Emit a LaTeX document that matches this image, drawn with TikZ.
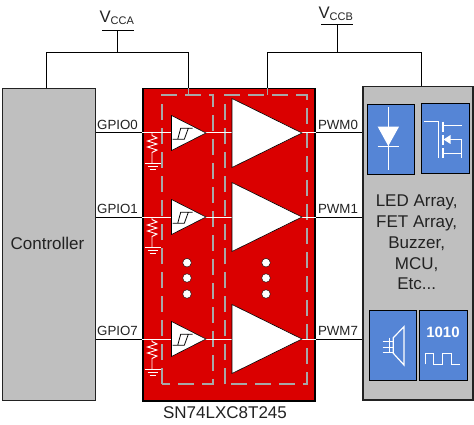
\documentclass[tikz,border=0pt]{standalone}
\usepackage{fontspec}
\setmainfont{Liberation Sans}
\definecolor{chipred}{HTML}{DA0000}
\definecolor{boxgray}{HTML}{BFBFBF}
\definecolor{iconblue}{HTML}{5585D6}
\definecolor{dashgray}{HTML}{A8A8A8}
\definecolor{inkc}{HTML}{222222}
\tikzset{
  blockbox/.style={draw=inkc,line width=1.5pt,fill=boxgray,inner sep=0pt,anchor=north west},
  chipbox/.style={draw=black,line width=1.5pt,fill=chipred,inner sep=0pt,anchor=north west},
  iconbox/.style={draw=black,line width=1pt,fill=iconblue,inner sep=0pt,anchor=north west},
  wire/.style={draw=black,line width=1pt},
  whitewire/.style={draw=white,line width=1pt},
  gdash/.style={draw=dashgray,line width=1.4pt,dash pattern=on 16pt off 8pt},
  gstub/.style={draw=dashgray,line width=1.4pt},
  tri/.style={draw=black,line width=0.6pt,fill=white,line join=miter},
  lab/.style={inner sep=0pt,anchor=base,text=inkc,font=\fontsize{13.3}{16}\selectfont},
  big/.style={inner sep=0pt,anchor=base,text=inkc,font=\fontsize{17}{21}\selectfont},
  dot/.style={circle,draw=black,line width=0.4pt,fill=white,minimum size=8.6pt,inner sep=0pt},
  icon/.style={draw=white,line width=1pt},
}
\begin{document}
\begin{tikzpicture}[x=1pt,y=-1pt]
\useasboundingbox (0,0) rectangle (474,425);
% blocks
\node[blockbox,minimum width=93pt,minimum height=311.5pt] (ctrl) at (1.5,88) {};
\node[chipbox,minimum width=172pt,minimum height=312pt] (chip) at (142,88) {};
\node[blockbox,minimum width=110pt,minimum height=313pt] (load) at (362,86) {};
\node[big,anchor=center] (ctrltxt) at (47.5,243) {Controller};
\node[big] (chipname) at (225,418) {SN74LXC8T245};
% supplies
\coordinate (busa) at (117.5,53);
\coordinate (busb) at (337.5,53);
\coordinate (vabarl) at (102,30.3);
\coordinate (vabarr) at (134,30.3);
\coordinate (vbbarl) at (321,25);
\coordinate (vbbarr) at (353,25);
\draw[wire] (vabarl) -- (vabarr);
\draw[wire] (vbbarl) -- (vbbarr);
\draw[wire] (busa) -- (busa |- vabarl);
\draw[wire] (busb) -- (busb |- vbbarl);
\coordinate (adropc) at (46.5,53);
\coordinate (adropd) at (188.5,53);
\coordinate (bdropd) at (267.5,53);
\coordinate (bdropl) at (421,53);
\draw[wire] (adropc |- ctrl.north) -- (adropc) -- (adropd) -- (adropd |- chip.north);
\draw[wire] (bdropd |- chip.north) -- (bdropd) -- (bdropl) -- (bdropl |- load.north);
\node[inner sep=0pt,anchor=base west,text=inkc,font=\fontsize{16.7}{20}\selectfont] (vcca) at (99.3,22.7) {V\raisebox{-2.3pt}{\fontsize{11}{13}\selectfont CCA}};
\node[inner sep=0pt,anchor=base west,text=inkc,font=\fontsize{16.7}{20}\selectfont] (vccb) at (318.3,18.3) {V\raisebox{-2.3pt}{\fontsize{11}{13}\selectfont CCB}};
% dashed regions
\draw[gdash] (162,384) -- (162,95) -- (213,95) -- (213,384) -- cycle;
\draw[gdash] (225,384) -- (225,95) -- (307,95) -- (307,384) -- cycle;
\draw[gstub] (adropd |- chip.north) -- (188.5,95);
\draw[gstub] (bdropd |- chip.north) -- (267.5,95);
% channels
\foreach \n/\yy/\ly/\name/\pw in {0/133/129.3/GPIO0/PWM0,1/217/213.3/GPIO1/PWM1,7/339/335/GPIO7/PWM7}{
  \coordinate (w\n) at (200,\yy);
  \draw[wire] (ctrl.east |- w\n) -- (chip.west |- w\n);
  \draw[wire] (chip.east |- w\n) -- (load.west |- w\n);
  \draw[whitewire] (chip.west |- w\n) -- (chip.east |- w\n);
  \node[lab] (gpio\n) at (117.5,\ly) {\name};
  \node[lab] (pwm\n) at (338,\ly) {\pw};
  \begin{scope}[shift={(0,\yy)}]
    \draw[tri] (171.5,-17.5) -- (206,0) -- (171.5,17.5) -- cycle;
    \draw[tri] (232,-34.5) -- (302,0) -- (232,34.5) -- cycle;
    \draw[black,line width=0.8pt] (172.7,6.3) -- (184.3,6.3) -- (188.3,-4.7) -- (192.7,-4.7)
      (177.7,6.3) -- (180.7,-4.7) -- (188.3,-4.7);
    \draw[draw=white,line width=0.9pt] (152,0) -- (152,2.5) -- (157,5) -- (147.5,8) -- (157,11) -- (147.5,14) -- (157,17) -- (152,19.5) -- (152,30);
    \draw[draw=white,line width=0.9pt] (144.6,30) -- (160.6,30) (147.6,33) -- (157.6,33) (149.6,36) -- (155.6,36);
  \end{scope}
}
% continuation dots
\foreach \i/\yy in {1/262.7,2/278,3/294}{
  \node[dot] (dl\i) at (187,\yy) {};
  \node[dot] (dr\i) at (266,\yy) {};
}
% load text
\foreach \i/\yy/\t in {1/206/{LED Array,},2/227/{FET Array,},3/248/{Buzzer,},4/269/{MCU,},5/289/{Etc...}}{
  \node[big] (loadtxt\i) at (416.7,\yy) {\t};
}
% icons
\node[iconbox,minimum width=46.4pt,minimum height=70pt] (led) at (367.3,104.3) {};
\node[iconbox,minimum width=47.4pt,minimum height=70pt] (fet) at (421.3,103.3) {};
\node[iconbox,minimum width=46.4pt,minimum height=70pt] (spk) at (369.3,310.3) {};
\node[iconbox,minimum width=47.4pt,minimum height=70pt] (wav) at (419.3,310.3) {};
% diode
\draw[icon] (388.3,107.3) -- (388.3,170);
\fill[white] (377.7,126.7) -- (399,126.7) -- (388.3,146) -- cycle;
\draw[icon] (377.7,146.3) -- (399,146.3);
% fet
\draw[icon] (424,121.7) -- (438.3,121.7) -- (438.3,158.3);
\draw[icon,line width=1.6pt] (442.7,121.7) -- (442.7,131.7) (442.7,135) -- (442.7,145) (442.7,148.3) -- (442.7,158.3);
\draw[icon] (442.7,125.7) -- (461.7,125.7);
\draw[icon] (444,139.5) -- (461.7,139.5) -- (461.7,158.3);
\draw[icon] (442.7,153.3) -- (461.7,153.3);
\fill[white] (443.5,139.5) -- (450.5,135) -- (450.5,144) -- cycle;
% speaker
\draw[icon,line width=1.2pt] (393.3,337.7) -- (404,326.7) -- (404,365) -- (393.3,353.3) -- cycle;
\draw[icon,line width=1.8pt] (389.5,337.7) -- (389.5,353.3);
\draw[icon,line width=1.4pt] (382.7,341.7) -- (393,341.7) (382.7,347.3) -- (393,347.3) (382.7,352.7) -- (393,352.7);
% wave
\node[inner sep=0pt,text=white,font=\bfseries\fontsize{15}{18}\selectfont] (bits) at (443,332.3) {1010};
\draw[icon] (425,364.3) -- (425,353.3) -- (433.3,353.3) -- (433.3,364.3) -- (442.3,364.3) -- (442.3,353.3) -- (451.7,353.3) -- (451.7,364.3) -- (460,364.3);
\end{tikzpicture}
\end{document}
